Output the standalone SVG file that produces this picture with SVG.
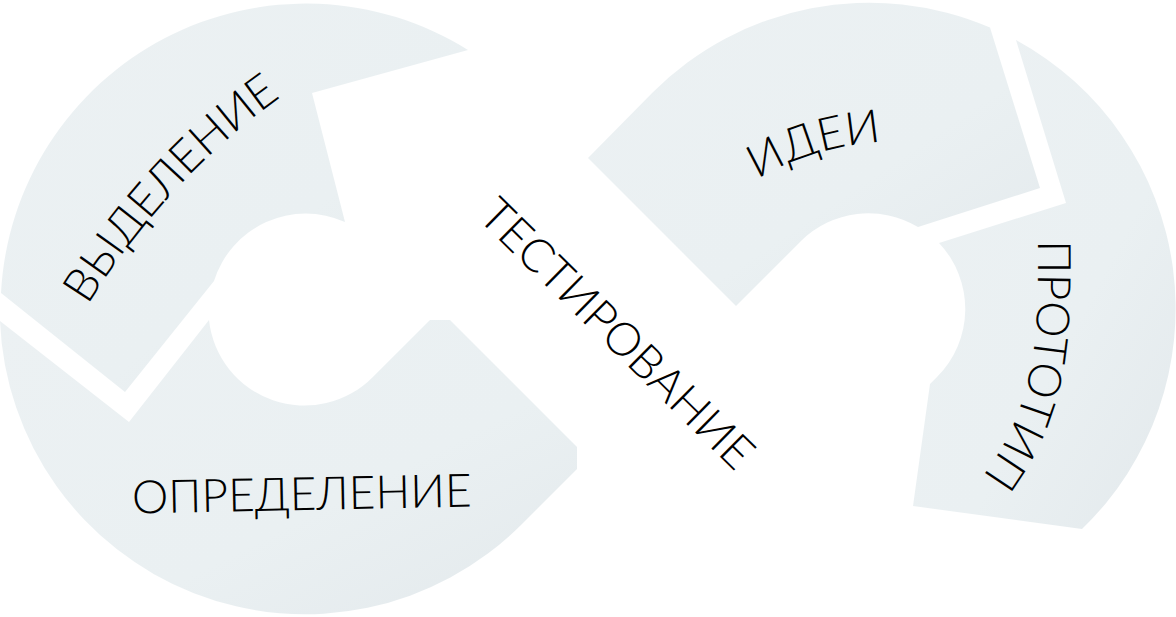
<svg xmlns="http://www.w3.org/2000/svg" width="1176" height="617" viewBox="0 0 1176 617">
  <defs>
    <linearGradient id="seg" x1="0" y1="0" x2="1" y2="1">
      <stop offset="0" stop-color="#ECF1F3"/>
      <stop offset="0.6" stop-color="#EAF0F2"/>
      <stop offset="1" stop-color="#E3E9EC"/>
    </linearGradient>
    <path id="p-vyd" d="M 85.6,308.5 Q 169,175 284,95"/>
    <path id="p-idei" d="M 760,178 Q 810,148 878.7,142"/>
    <path id="p-proto" d="M 1038,236 C 1038,320 1042,400 979.5,480"/>
    <style>
      .seg { fill: url(#seg); stroke: none; }
      .lbl { font-family: "Lato", "Inter", "Noto Sans", "Liberation Sans", sans-serif; font-weight: 300; font-size: 46px; fill: #000000; }
    </style>
  </defs>
  <rect width="1176" height="617" fill="#FFFFFF"/>

  <g id="node-vydelenie">
    <path class="seg" d="M 1,293 A 305.5,305.5 0 0 1 468,50 L 312,93 L 345,222 A 96,96 0 0 0 214,281 L 125,392 Z"/>
    <text class="lbl"><textPath href="#p-vyd" startOffset="50%" text-anchor="middle">ВЫДЕЛЕНИЕ</textPath></text>
  </g>

  <g id="node-opredelenie">
    <path class="seg" d="M 0,321 A 305.5,305.5 0 0 0 521,525 L 577,469 L 577,447 L 450,320 L 430,320 L 372.9,376.9 A 96,96 0 0 1 209,320 L 129,422 Z"/>
    <text class="lbl" x="302" y="510" text-anchor="middle" transform="rotate(-1.2 302 510)">ОПРЕДЕЛЕНИЕ</text>
  </g>

  <g id="node-idei">
    <path class="seg" d="M 588,158 L 652.6,92.6 A 306,306 0 0 1 990,27.5 L 1040,188 L 918,227 A 96,96 0 0 0 801,241 L 736,306 Z"/>
    <text class="lbl"><textPath href="#p-idei" startOffset="50%" text-anchor="middle">ИДЕИ</textPath></text>
  </g>

  <g id="node-prototip">
    <path class="seg" d="M 1016,40 L 1066,203 L 939,243 A 96,96 0 0 1 937,377 L 930,384 L 913,506 L 1082,529 A 306,306 0 0 0 1016,40 Z"/>
    <text class="lbl"><textPath href="#p-proto" startOffset="50%" text-anchor="middle">ПРОТОТИП</textPath></text>
  </g>

  <g id="node-testirovanie">
    <text class="lbl" x="606" y="345" text-anchor="middle" transform="rotate(44.5 606 345)">ТЕСТИРОВАНИЕ</text>
  </g>

  <g id="connectors"/>
</svg>
